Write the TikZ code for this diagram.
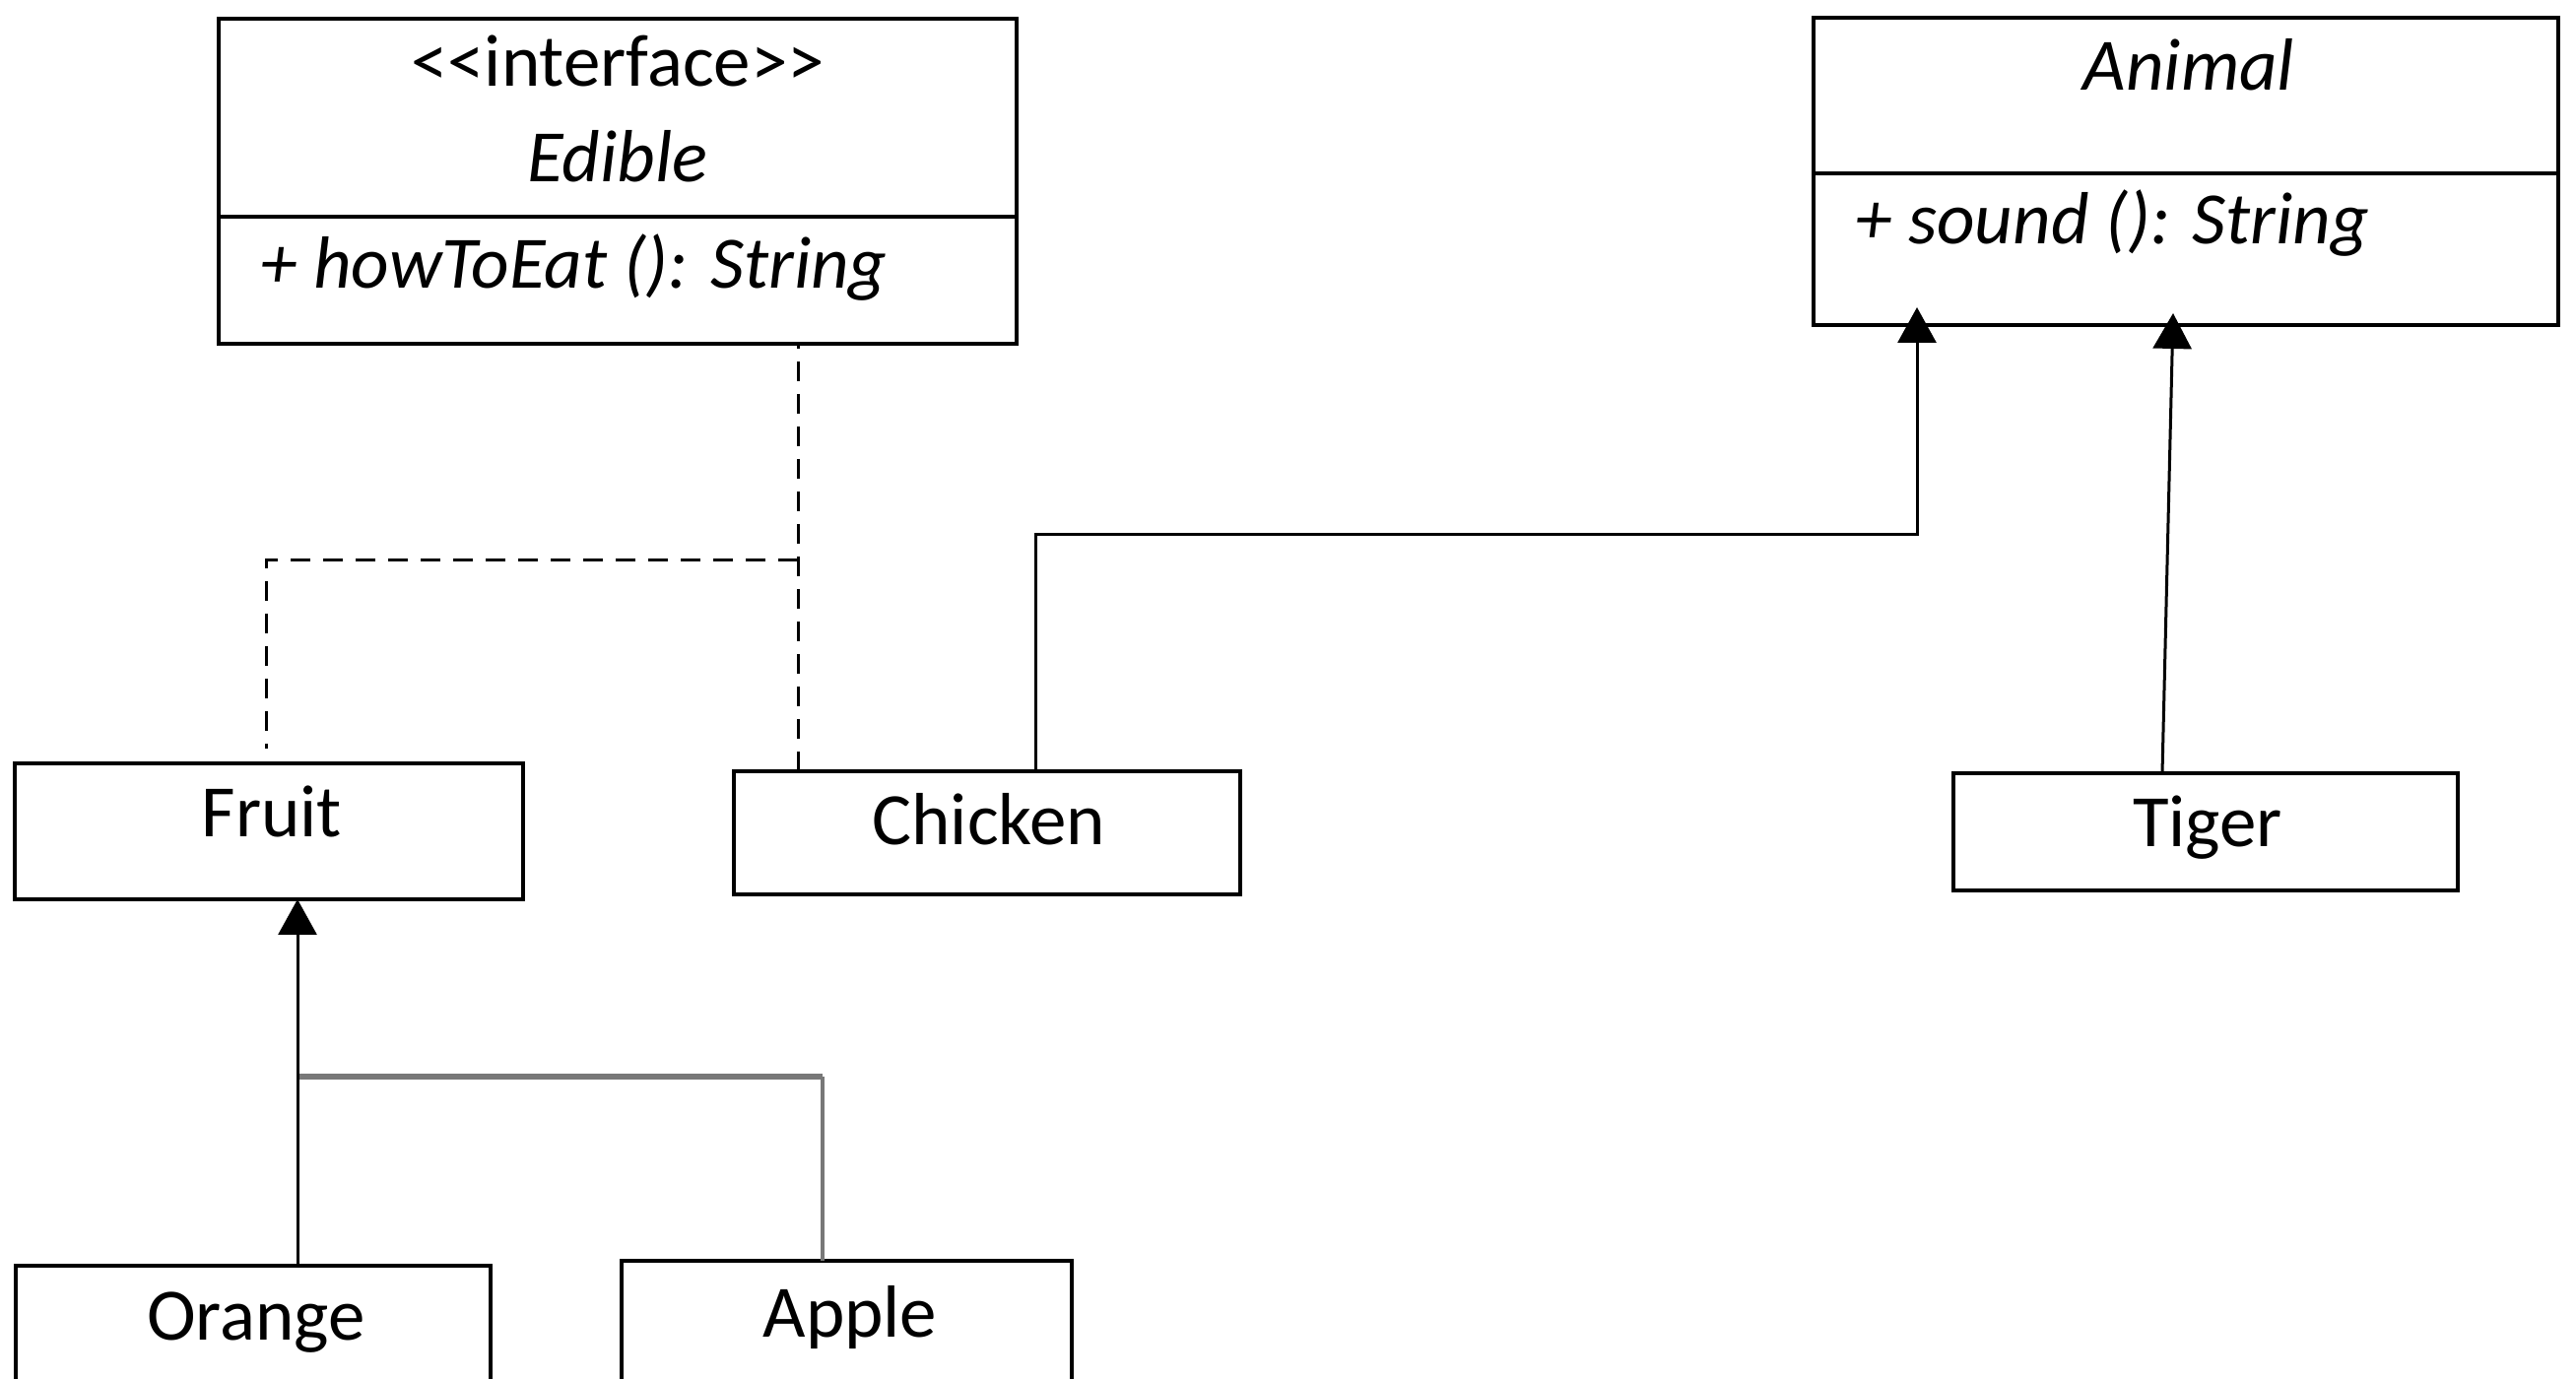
\documentclass[tikz,border=0pt]{standalone}
\usepackage{fontspec}
\setmainfont{Carlito}
\usetikzlibrary{arrows.meta,calc}
\definecolor{lgray}{HTML}{787878}
\begin{document}
\begin{tikzpicture}[x=0.5pt,y=-0.5pt,
  box/.style={draw=black,line width=1.75pt,inner sep=0pt,outer sep=0pt,fill=none},
  txt/.style={inner sep=0pt,outer sep=0pt,anchor=base,font=\fontsize{37.5}{45}\selectfont},
  itxt/.style={txt,font=\fontsize{37.5}{45}\selectfont\itshape},
  inh/.style={draw=black,line width=1.5pt,-{Triangle[width=19.5pt,length=18pt]}},
  dep/.style={draw=black,line width=1.5pt,dash pattern=on 10pt off 6.5pt,dash phase=-9pt},
  gline/.style={draw=lgray,line width=1.6pt}]
\useasboundingbox (0,0) rectangle (2615,1400);
\fill[white] (0,0) rectangle (2615,1400);
\begin{scope}
\clip (0,0) rectangle (2615,1400);
% class boxes
\node[box,minimum width=405pt,minimum height=165pt] (edible) at (627,184) {};
\draw[line width=1.75pt] (edible.west |- 0,220) -- (edible.east |- 0,220);
\node[txt] (edst) at (627,88) {<{}<interface>{}>};
\node[itxt] (edname) at (627,185) {Edible};
\node[itxt,anchor=base west] (edop) at (264,293) {+ howToEat (): String};

\node[box,minimum width=378pt,minimum height=156pt] (animal) at (2219,174) {};
\draw[line width=1.75pt] (animal.west |- 0,176) -- (animal.east |- 0,176);
\node[itxt] (anname) at (2222,92) {Animal};
\node[itxt,anchor=base west] (anop) at (1883,248) {+ sound (): String};

\node[box,minimum width=258pt,minimum height=69pt] (fruit) at (273,844) {};
\node[txt] (fruitt) at (276,850) {Fruit};
\node[box,minimum width=257pt,minimum height=62.5pt] (chicken) at (1002,845.5) {};
\node[txt] (chickent) at (1004,858) {Chicken};
\node[box,minimum width=256pt,minimum height=59.5pt] (tiger) at (2239,844.5) {};
\node[txt] (tigert) at (2241,860) {Tiger};
\node[box,minimum width=241pt,minimum height=77.5pt] (orange) at (257,1362.5) {};
\node[txt] (oranget) at (260,1360) {Orange};
\node[box,minimum width=228.5pt,minimum height=80pt] (apple) at (859.5,1360) {};
\node[txt] (applet) at (863,1357) {Apple};

% connectors
\coordinate (dj) at (810,569);
\draw[dep] ($(edible.south)+(183,0)$) -- ($(chicken.north)+(-192,0)$);
\draw[dep,dash phase=0pt] (dj) -| ($(fruit.north)+(-3,-15)$);

\coordinate (a1) at (1946,312);
\draw[inh] ($(chicken.north)+(49,0)$) -- ++(0,-240) -| (a1);
\coordinate (a2) at (2206,318);
\draw[inh] ($(tiger.north)+(-44,0)$) -- (a2);

\coordinate (oj) at (302,1093);
\draw[gline] ($(apple.north)+(-24.5,0)$) -- ($(apple.north)+(-24.5,-187)$);
\draw[draw=lgray,line width=2.5pt] ($(apple.north)+(-24.5,-187)$) -- (oj);
\draw[inh] ($(orange.north)+(45,0)$) -- ($(fruit.south)+(29,0)$);
\end{scope}
\end{tikzpicture}
\end{document}
